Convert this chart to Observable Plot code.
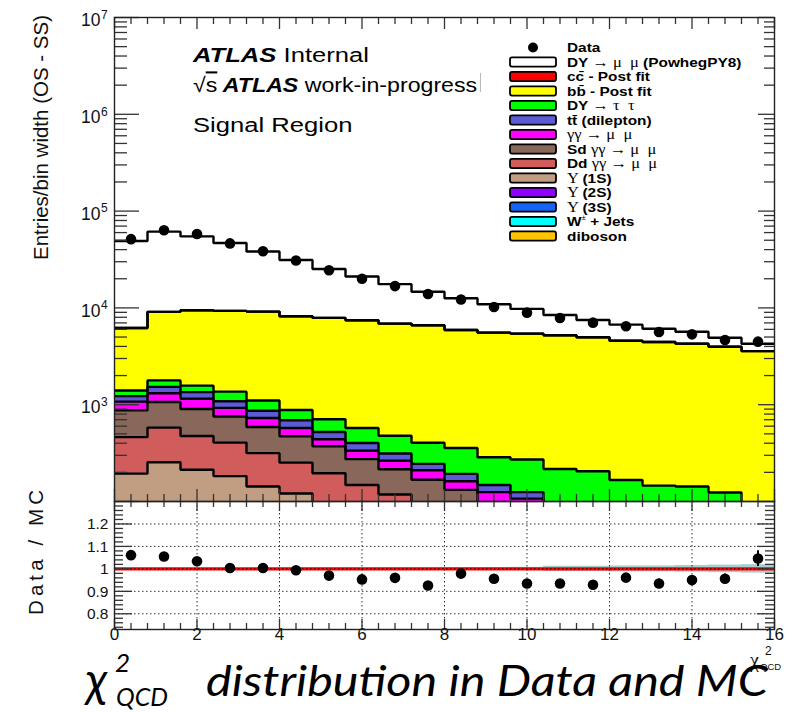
<!DOCTYPE html>
<html>
<head>
<meta charset="utf-8">
<script src="https://cdn.jsdelivr.net/npm/d3@7"></script>
<script src="https://cdn.jsdelivr.net/npm/@observablehq/plot@0.6"></script>
<style>
  html, body { margin: 0; padding: 0; background: #fff; }
  #figure { position: relative; width: 794px; height: 712px; overflow: hidden; }
  #figure > svg { position: absolute; left: 0; }
</style>
</head>
<body>
<div id="figure"></div>
<script>
// χ²_QCD binning: 20 bins of width 0.8 on [0, 16]
const binCenters = [0.4, 1.2, 2.0, 2.8, 3.6, 4.4, 5.2, 6.0, 6.8, 7.6,
                    8.4, 9.2, 10.0, 10.8, 11.6, 12.4, 13.2, 14.0, 14.8, 15.6];
const binWidth = 0.8;

// Entries / bin width (OS - SS)
const dataValues = [51300, 63500, 58000, 46400, 38500, 30900, 24500, 20000, 16800, 13900,
                    12200, 10200, 8930, 7870, 7040, 6460, 5640, 5330, 4660, 4480];

// MC processes
const dyMuMu    = [42890, 52200, 45330, 37490, 29140, 22990, 17320, 13640, 10720, 8080,
                   6690, 5350, 4350, 3250, 2540, 2130, 1660, 1410, 950, 690];
const ccbar     = [0, 0, 0, 0, 0, 0, 0, 0, 0, 0, 0, 0, 0, 0, 0, 0, 0, 0, 0, 0];
const bbbar     = [4807, 7318, 7896, 7946, 8054, 7327, 7172, 6885, 6403, 6216,
                   5553, 5264, 5148, 4993, 4765, 4413, 4294, 4127, 3846, 3488];
const dyTauTau  = [178, 254, 225, 277, 239, 192, 185, 173, 164, 159,
                   164, 138, 147, 120, 127, 105, 96, 103, 92, 66];
const ttbar     = [150, 213, 196, 160, 137, 116, 84, 67, 49, 35,
                   31, 23, 18, 12, 10, 8, 7, 5, 4, 4];
const ggMuMu    = [202, 248, 251, 172, 141, 103, 67, 61, 49, 42,
                   30, 28, 29, 23, 19, 15, 12, 10, 8, 6];
const sdGG      = [411, 487, 427, 349, 273, 220, 176, 126, 97, 73,
                   56, 37, 30, 24, 19, 15, 12, 10, 8, 6];
const ddGG      = [268, 326, 262, 223, 173, 131, 101, 70, 54, 43,
                   34, 26, 20, 15, 11, 9, 7, 5, 4, 3];
const upsilon1S = [194, 254, 213, 183, 143, 121, 95, 78, 64, 52,
                   42, 34, 28, 23, 19, 15, 12, 10, 8, 7];
const upsilon2S = [0, 0, 0, 0, 0, 0, 0, 0, 0, 0, 0, 0, 0, 0, 0, 0, 0, 0, 0, 0];
const upsilon3S = [0, 0, 0, 0, 0, 0, 0, 0, 0, 0, 0, 0, 0, 0, 0, 0, 0, 0, 0, 0];
const wJets     = [0, 0, 0, 0, 0, 0, 0, 0, 0, 0, 0, 0, 0, 0, 0, 0, 0, 0, 0, 0];
const diboson   = [0, 0, 0, 0, 0, 0, 0, 0, 0, 0, 0, 0, 0, 0, 0, 0, 0, 0, 0, 0];

// Data / MC
const ratioValues  = [1.061, 1.055, 1.034, 1.004, 1.004, 0.994, 0.970, 0.953, 0.960, 0.926,
                      0.979, 0.956, 0.935, 0.935, 0.929, 0.961, 0.935, 0.950, 0.956, 1.046];
const ratioErrors  = [0.008, 0.008, 0.008, 0.009, 0.009, 0.010, 0.010, 0.011, 0.012, 0.012,
                      0.013, 0.014, 0.015, 0.016, 0.017, 0.018, 0.019, 0.020, 0.021, 0.035];
const mcStatErrors = [0.003, 0.003, 0.003, 0.003, 0.003, 0.004, 0.004, 0.004, 0.005, 0.005,
                      0.006, 0.006, 0.007, 0.012, 0.012, 0.013, 0.013, 0.015, 0.017, 0.019];

// Tick labels
const xTickLabels     = [0, 2, 4, 6, 8, 10, 12, 14, 16];
const yTickExponents  = [3, 4, 5, 6, 7];
const ratioTickValues = [0.8, 0.9, 1.0, 1.1, 1.2];
const ratioTickLabels = ["0.8", "0.9", "1", "1.1", "1.2"];

// Processes in legend order (top of the stack first)
const processKeys   = ["dyMuMu", "ccbar", "bbbar", "dyTauTau", "ttbar", "ggMuMu", "sdGG",
                       "ddGG", "upsilon1S", "upsilon2S", "upsilon3S", "wJets", "diboson"];
const processSeries = [dyMuMu, ccbar, bbbar, dyTauTau, ttbar, ggMuMu, sdGG,
                       ddGG, upsilon1S, upsilon2S, upsilon3S, wJets, diboson];
const processColors = ["#ffffff", "#ff0000", "#ffff00", "#00ff00", "#5b5bd8", "#ff00ff", "#89675a",
                       "#d05c5c", "#c19e82", "#8f00ff", "#1565f5", "#00ffff", "#ffc400"];

// ---------- layout ----------
const W = 794;
const FRAME_L = 114, FRAME_R = 774;
const MAIN_TOP = 17, MAIN_BOTTOM = 501;
const RATIO_BOTTOM = 629, RATIO_SVG_H = 211;
const frameW = FRAME_R - FRAME_L;
const mainFrameH = MAIN_BOTTOM - MAIN_TOP;
const ratioFrameH = RATIO_BOTTOM - MAIN_BOTTOM;
const tickColor = "#333";

// ---------- stacked histogram table ----------
const stackRects = [];
const stackOutline = [];
const cumulative = binCenters.map(() => 0);
for (let s = processKeys.length - 1; s >= 0; s--) {
  const key = processKeys[s];
  processSeries[s].forEach((v, i) => {
    const x1 = binCenters[i] - binWidth / 2, x2 = binCenters[i] + binWidth / 2;
    const lo = cumulative[i], hi = cumulative[i] + v;
    stackRects.push({key, x1, x2, y1: Math.max(lo, 1), y2: Math.max(hi, 1)});
    stackOutline.push({key, x: x1, y: Math.max(hi, 1)}, {key, x: x2, y: Math.max(hi, 1)});
    cumulative[i] = hi;
  });
}

// tick positions
const xMinor = d3.range(41).map(i => +(i * 0.4).toFixed(1)).filter((v, i) => i % 5 !== 0);
const xMajor = xTickLabels;
const yMajor = [2, 3, 4, 5, 6, 7].map(e => 10 ** e);
const yMinor = [];
for (let e = 2; e < 7; e++) for (let m = 2; m <= 9; m++) yMinor.push(m * 10 ** e);
const rMinor = d3.range(37).map(i => +(0.74 + i * 0.02).toFixed(2))
  .filter(v => v <= 1.29 && !ratioTickValues.some(t => Math.abs(t - v) < 1e-6));

function frameTicks(kind, {xMaj, xMin, yMaj, yMin, fh}) {
  const st = {stroke: tickColor, strokeWidth: 1.3};
  return [
    // bottom and top x ticks
    Plot.tickX(xMaj, {x: d => d, insetTop: fh - kind.xMajB, ...st}),
    Plot.tickX(xMin, {x: d => d, insetTop: fh - kind.xMinB, ...st}),
    Plot.tickX(xMaj, {x: d => d, insetBottom: fh - kind.xMajT, ...st}),
    Plot.tickX(xMin, {x: d => d, insetBottom: fh - kind.xMinT, ...st}),
    // left and right y ticks
    Plot.tickY(yMaj, {y: d => d, insetRight: frameW - kind.yMajL, ...st}),
    Plot.tickY(yMin, {y: d => d, insetRight: frameW - kind.yMinL, ...st}),
    Plot.tickY(yMaj, {y: d => d, insetLeft: frameW - kind.yMajR, ...st}),
    Plot.tickY(yMin, {y: d => d, insetLeft: frameW - kind.yMinR, ...st})
  ];
}

// ---------- main panel ----------
const mainPlot = Plot.plot({
  width: W,
  height: MAIN_BOTTOM,
  marginLeft: FRAME_L,
  marginRight: W - FRAME_R,
  marginTop: MAIN_TOP,
  marginBottom: 0,
  style: {background: "transparent", fontFamily: "'Liberation Sans', Arial, sans-serif", overflow: "visible"},
  x: {domain: [0, 16], axis: null},
  y: {type: "log", domain: [100, 1e7], axis: null},
  color: {domain: processKeys, range: processColors},
  marks: [
    Plot.rect(stackRects, {x1: "x1", x2: "x2", y1: "y1", y2: "y2", fill: "key", clip: true}),
    Plot.line(stackOutline, {x: "x", y: "y", z: "key", stroke: "black", strokeWidth: 2.4,
                             strokeLinejoin: "miter", clip: true}),
    Plot.dot(dataValues, {x: (d, i) => binCenters[i], y: d => d, r: 5.3, fill: "black"}),
    ...frameTicks({xMajB: 12, xMinB: 7, xMajT: 12, xMinT: 7, yMajL: 25, yMinL: 13, yMajR: 16, yMinR: 10},
                  {xMaj: xMajor, xMin: xMinor, yMaj: yMajor, yMin: yMinor, fh: mainFrameH}),
    Plot.text(yTickExponents, {y: e => 10 ** e, text: () => "10", frameAnchor: "left",
                               textAnchor: "end", dx: -14, dy: 3, fontSize: 17.5, fill: "#111",
                               ariaLabel: "stretch-main"}),
    Plot.text(yTickExponents, {y: e => 10 ** e, text: e => String(e), frameAnchor: "left",
                               textAnchor: "start", dx: -13.5, dy: -2.5, fontSize: 12, fill: "#111",
                               ariaLabel: "stretch-main"}),
    Plot.frame({stroke: "#222", strokeWidth: 1.4})
  ]
});
mainPlot.style.top = "0px";

// ---------- ratio panel ----------
const bandRows = binCenters.map((c, i) => ({x1: c - binWidth / 2, x2: c + binWidth / 2,
                                            y1: 1 - mcStatErrors[i], y2: 1 + mcStatErrors[i]}));
const gridStyle = {stroke: "#000", strokeOpacity: 0.8, strokeWidth: 1, strokeDasharray: "1.5,2.5"};
const ratioPlot = Plot.plot({
  width: W,
  height: RATIO_SVG_H,
  marginLeft: FRAME_L,
  marginRight: W - FRAME_R,
  marginTop: 0,
  marginBottom: RATIO_SVG_H - ratioFrameH,
  style: {background: "transparent", fontFamily: "'Liberation Sans', Arial, sans-serif", overflow: "visible"},
  x: {domain: [0, 16], axis: null},
  y: {domain: [0.73, 1.3], axis: null},
  marks: [
    Plot.rect(bandRows, {x1: "x1", x2: "x2", y1: "y1", y2: "y2", fill: "#9fc9cb", fillOpacity: 0.9}),
    Plot.ruleY([1], {stroke: "#ff0000", strokeWidth: 3.2}),
    Plot.ruleY(ratioTickValues, gridStyle),
    Plot.ruleX(xMajor.filter(v => v > 0 && v < 16), gridStyle),
    Plot.ruleX(ratioValues, {x: (d, i) => binCenters[i], y1: (d, i) => d - ratioErrors[i],
                             y2: (d, i) => d + ratioErrors[i], stroke: "black", strokeWidth: 2}),
    Plot.dot(ratioValues, {x: (d, i) => binCenters[i], y: d => d, r: 5.3, fill: "black"}),
    ...frameTicks({xMajB: 10, xMinB: 6, xMajT: 10, xMinT: 6, yMajL: 18, yMinL: 9, yMajR: 17, yMinR: 9},
                  {xMaj: xMajor, xMin: xMinor, yMaj: ratioTickValues, yMin: rMinor, fh: ratioFrameH}),
    Plot.text(ratioTickValues, {y: d => d, text: (d, i) => ratioTickLabels[i], frameAnchor: "left",
                                textAnchor: "end", dx: -6, dy: 0.5, fontSize: 15.5, fill: "#111"}),
    Plot.text(xTickLabels, {x: d => d, text: d => String(d), frameAnchor: "bottom",
                            dy: 10, fontSize: 17, fill: "#111"}),
    Plot.frame({stroke: "#222", strokeWidth: 1.4})
  ]
});
ratioPlot.style.top = MAIN_BOTTOM + "px";

const fig = document.getElementById("figure");
fig.appendChild(mainPlot);
fig.appendChild(ratioPlot);

// horizontal stretch of the tick labels of the main panel
function stretchText(root, selector, sx) {
  root.querySelectorAll(selector).forEach(t => {
    const tr = t.getAttribute("transform");
    if (tr) t.setAttribute("transform", tr + ` scale(${sx},1)`);
    else {
      const x = +t.getAttribute("x") || 0, y = +t.getAttribute("y") || 0;
      t.removeAttribute("x"); t.removeAttribute("y");
      t.setAttribute("transform", `translate(${x},${y}) scale(${sx},1)`);
    }
  });
}
stretchText(mainPlot, 'g[aria-label="stretch-main"] text', 1.25);

// ---------- annotations, legend and caption ----------
const svg = d3.select(fig).append("svg")
  .attr("width", W).attr("height", 712)
  .style("top", "0px").style("pointer-events", "none");
const SANS = "'Liberation Sans', Arial, sans-serif";
const SERIF = "'Liberation Serif', 'Times New Roman', serif";

// axis titles
svg.append("text")
  .attr("transform", "translate(48,15) rotate(-90)")
  .attr("text-anchor", "end").attr("font-family", SANS).attr("font-size", 20.5).attr("fill", "#111")
  .text("Entries/bin width (OS - SS)");
svg.append("text")
  .attr("transform", "translate(43,615) rotate(-90)")
  .attr("font-family", SANS).attr("font-size", 20.5).attr("fill", "#111")
  .attr("textLength", 125).attr("lengthAdjust", "spacing")
  .text("Data / MC");

// x-axis title
const xt = svg.append("g").attr("font-family", SERIF).attr("fill", "#111");
xt.append("text").attr("x", 750).attr("y", 667).attr("font-size", 20).text("χ");
xt.append("text").attr("x", 765).attr("y", 655).attr("font-size", 12).attr("font-family", SANS).text("2");
xt.append("text").attr("x", 760).attr("y", 670).attr("font-size", 9.5).attr("font-family", SANS).text("QCD");

// ATLAS labels
const lab1 = svg.append("text").attr("transform", "translate(193,62) scale(1.22,1)")
  .attr("font-family", SANS).attr("font-size", 21).attr("fill", "#000");
lab1.append("tspan").attr("font-weight", "bold").attr("font-style", "italic").text("ATLAS");
lab1.append("tspan").text(" Internal");
const lab2 = svg.append("text").attr("transform", "translate(193,92) scale(1.13,1)")
  .attr("font-family", SANS).attr("font-size", 20.5).attr("fill", "#000");
lab2.append("tspan").text("√");
lab2.append("tspan").style("text-decoration", "overline").text("s");
lab2.append("tspan").attr("font-weight", "bold").attr("font-style", "italic").text(" ATLAS");
lab2.append("tspan").text(" work-in-progress");
svg.append("line").attr("x1", 480.5).attr("x2", 480.5).attr("y1", 73).attr("y2", 92)
  .attr("stroke", "#bbb").attr("stroke-width", 1);
svg.append("text").attr("transform", "translate(193,132) scale(1.22,1)")
  .attr("font-family", SANS).attr("font-size", 21).attr("fill", "#000").text("Signal Region");

// legend
const legendLabels = [
  [["Data", "b"]],
  [["DY ", "b"], ["→ μ  μ ", "g"], ["(PowhegPY8)", "b"]],
  [["cc\u0304 - Post fit", "b"]],
  [["bb\u0304 - Post fit", "b"]],
  [["DY ", "b"], ["→ τ  τ", "g"]],
  [["tt\u0304 (dilepton)", "b"]],
  [["γγ → μ  μ", "g"]],
  [["Sd ", "b"], ["γγ → μ  μ", "g"]],
  [["Dd ", "b"], ["γγ → μ  μ", "g"]],
  [["Υ ", "g"], ["(1S)", "b"]],
  [["Υ ", "g"], ["(2S)", "b"]],
  [["Υ ", "g"], ["(3S)", "b"]],
  [["W", "b"], ["±", "sup"], [" + Jets", "b"]],
  [["diboson", "b"]]
];
const legend = svg.append("g");
legendLabels.forEach((parts, i) => {
  const y = 47.5 + i * 14.5;
  if (i === 0) {
    legend.append("circle").attr("cx", 533).attr("cy", y).attr("r", 5).attr("fill", "#000");
  } else {
    legend.append("rect").attr("x", 510).attr("y", y - 4.6).attr("width", 46).attr("height", 9.2)
      .attr("rx", 2).attr("fill", processColors[i - 1]).attr("stroke", "#000").attr("stroke-width", 1.8);
  }
  const t = legend.append("text").attr("transform", `translate(567,${y + 4.8}) scale(1.14,1)`)
    .attr("font-family", SANS).attr("font-size", 13.5).attr("font-weight", "bold").attr("fill", "#000")
    .style("white-space", "pre");
  parts.forEach(([s, kind]) => {
    const ts = t.append("tspan").text(s);
    if (kind === "g") ts.attr("font-family", SERIF).attr("font-weight", "normal").attr("font-size", 14.5);
    if (kind === "sup") ts.attr("font-size", 7).attr("dy", -6).attr("font-weight", "normal");
    if (kind === "b" && parts.some(p => p[1] === "sup") && s.startsWith(" ")) ts.attr("dy", 6);
  });
});

// caption
const CAP = "Lato, 'Open Sans', 'Noto Sans', sans-serif";
const cap = svg.append("g").attr("font-family", CAP).attr("font-style", "italic").attr("fill", "#000");
cap.append("text").attr("x", 86).attr("y", 697).attr("font-size", 48).text("χ");
cap.append("text").attr("x", 115).attr("y", 672).attr("font-size", 26).text("2");
cap.append("text").attr("x", 116).attr("y", 706).attr("font-size", 25).text("QCD");
cap.append("text").attr("x", 206).attr("y", 696).attr("font-size", 42)
  .attr("textLength", 562).attr("lengthAdjust", "spacingAndGlyphs")
  .text("distribution in Data and MC");
</script>
</body>
</html>
